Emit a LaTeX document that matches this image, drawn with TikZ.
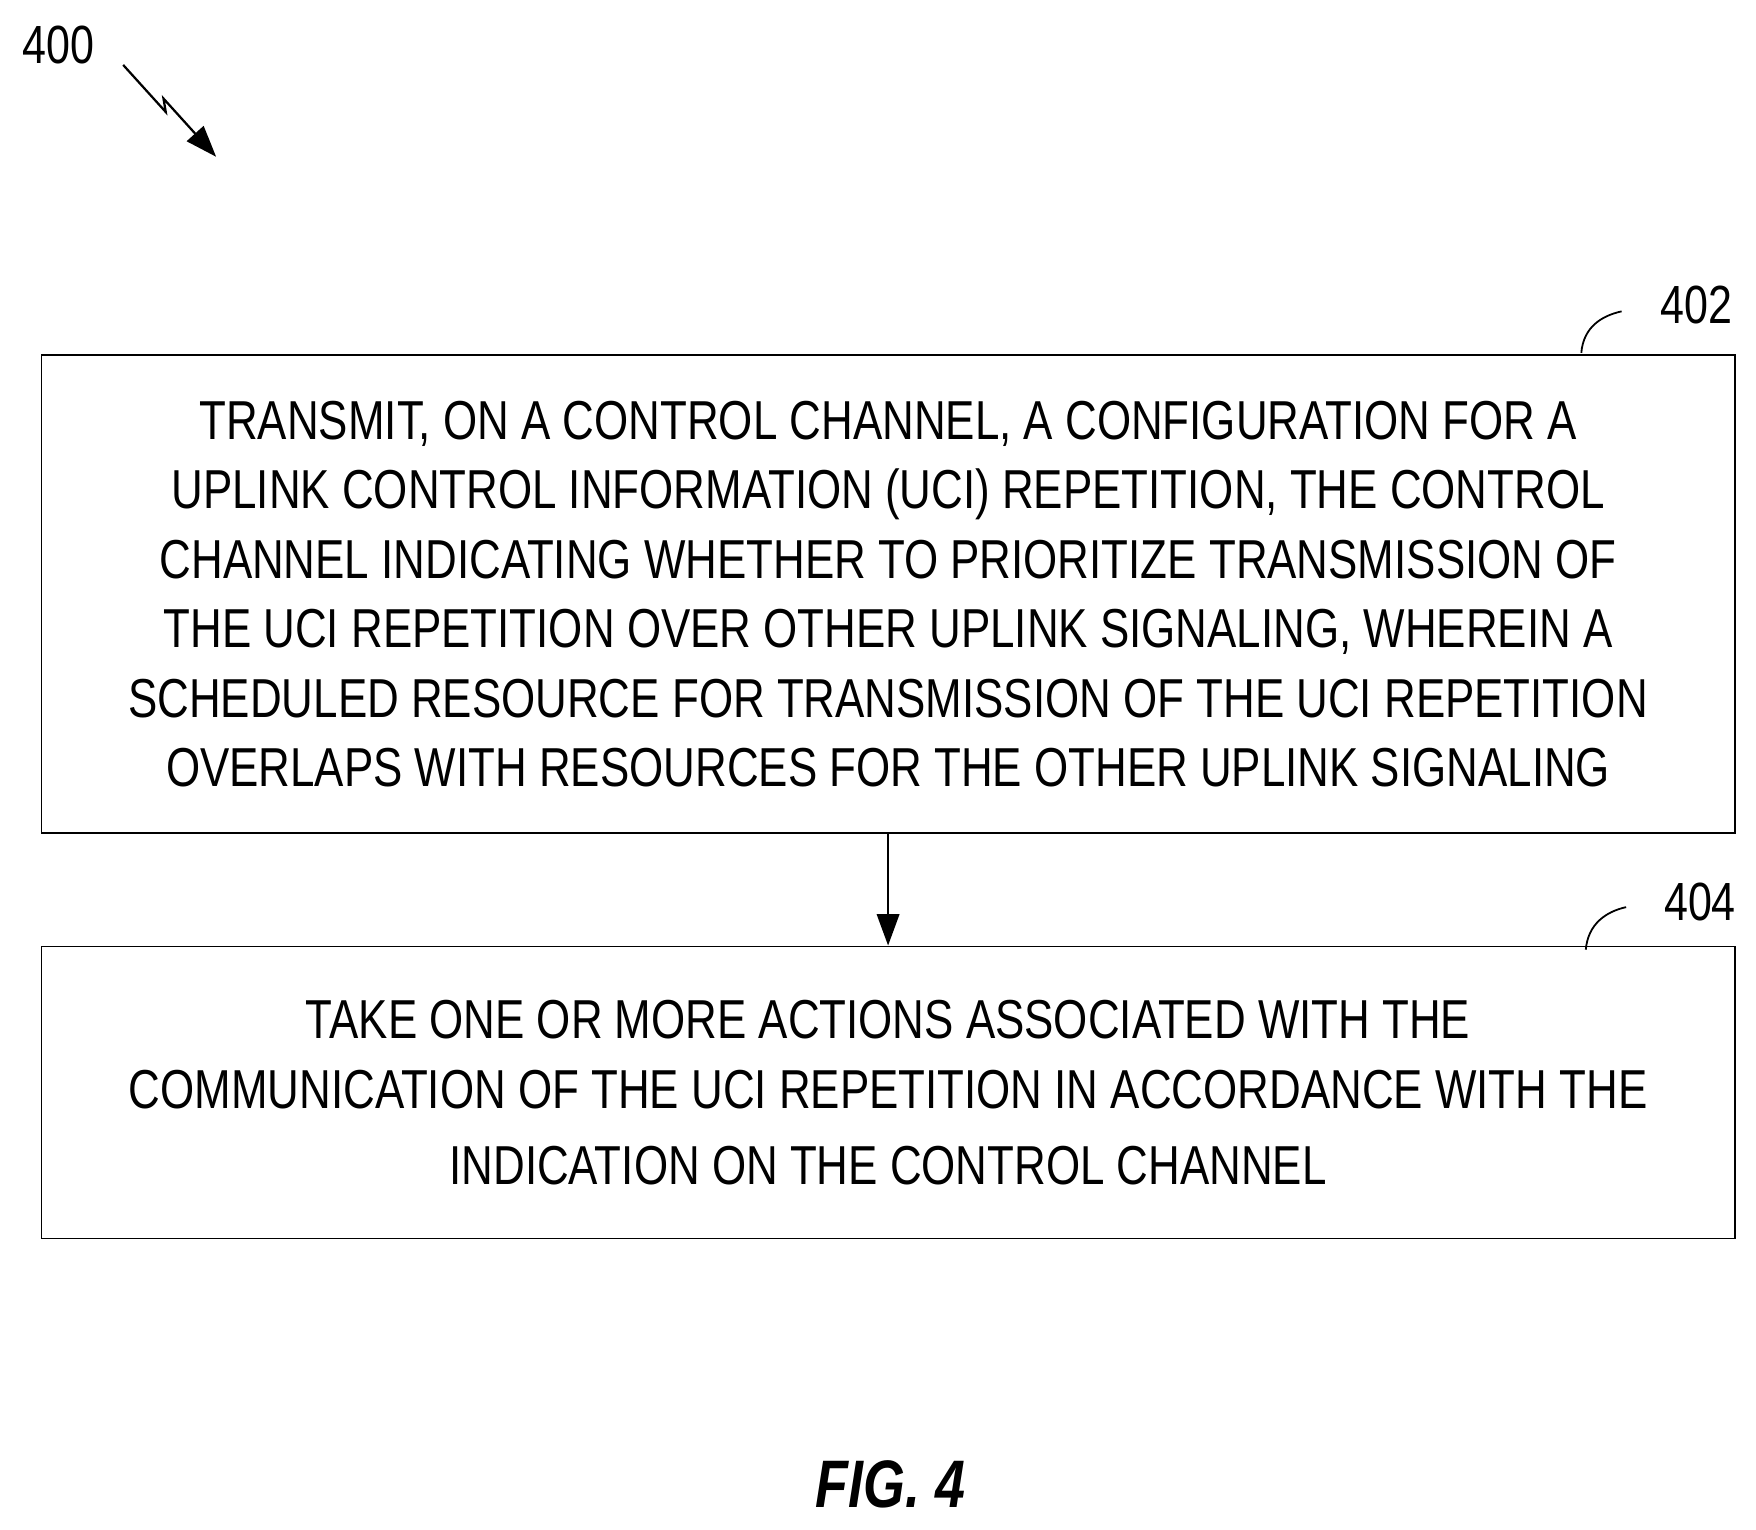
\documentclass[tikz,border=0pt]{standalone}
\usepackage{fontspec}
\setmainfont{Liberation Sans}[FakeStretch=0.8]
\usetikzlibrary{arrows.meta}
\begin{document}
\begin{tikzpicture}[x=0.5pt,y=-0.5pt,
  stepbox/.style={draw,line width=0.7pt,inner sep=0pt},
  txt/.style={align=center,font=\fontsize{24.5}{31}\selectfont},
  lbl/.style={font=\fontsize{24}{28}\selectfont}]
\useasboundingbox (0,0) rectangle (1568,1366);
\node[lbl] (n400) at (52,40) {400};
\draw[line width=1pt,-{Triangle[length=14pt,width=10pt]}] (110,58) -- (148,100) -- (146,88) -- (193,140);
\node[stepbox,minimum width=756pt,minimum height=213.5pt] (b1) at (793,530.5) {};
\node[txt] at (b1) {TRANSMIT, ON A CONTROL CHANNEL, A CONFIGURATION FOR A\\UPLINK CONTROL INFORMATION (UCI) REPETITION, THE CONTROL\\CHANNEL INDICATING WHETHER TO PRIORITIZE TRANSMISSION OF\\THE UCI REPETITION OVER OTHER UPLINK SIGNALING, WHEREIN A\\SCHEDULED RESOURCE FOR TRANSMISSION OF THE UCI REPETITION\\OVERLAPS WITH RESOURCES FOR THE OTHER UPLINK SIGNALING};
\node[stepbox,minimum width=756pt,minimum height=130.5pt] (b2) at (793,975.5) {};
\node[txt] at (b2) {TAKE ONE OR MORE ACTIONS ASSOCIATED WITH THE\\COMMUNICATION OF THE UCI REPETITION IN ACCORDANCE WITH THE\\[3pt]INDICATION ON THE CONTROL CHANNEL};
\draw[line width=1pt,-{Triangle[length=14pt,width=10pt]}] (b1.south) -- (b2.north);
\node[lbl] (n402) at (1515,272) {402};
\draw[line width=0.8pt] (1412,315) .. controls (1414,292) and (1430,282) .. (1448,278);
\node[lbl] (n404) at (1518,805) {404};
\draw[line width=0.8pt] (1416,848) .. controls (1418,825) and (1434,814) .. (1452,810);
\node[font=\fontsize{30}{34}\selectfont\bfseries\itshape] (fig) at (795,1325) {FIG. 4};
\end{tikzpicture}
\end{document}
